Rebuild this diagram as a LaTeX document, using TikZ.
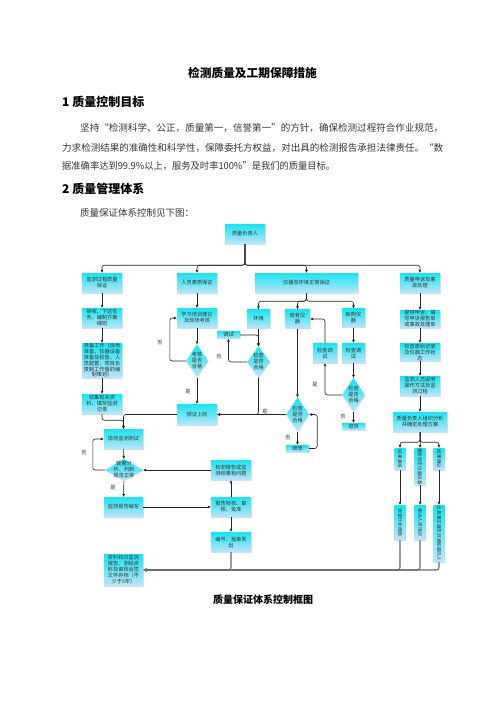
\documentclass[tikz,border=0pt]{standalone}
\usepackage{fontspec}
\usepackage{graphicx}
\setmainfont{Noto Sans CJK SC}
\usetikzlibrary{shapes.geometric,arrows.meta,shadows,calc}
\definecolor{boxtop}{RGB}{20,230,240}
\definecolor{boxbot}{RGB}{192,228,248}
\definecolor{txt}{RGB}{55,55,55}
\definecolor{busc}{RGB}{105,105,105}
\tikzset{
  bx/.style={draw=none, top color=boxtop, bottom color=boxbot, inner sep=0.3pt, align=center,
    font=\fontsize{5.2}{6}\selectfont, text=black!80,
    drop shadow={shadow xshift=0.6pt, shadow yshift=-0.6pt, opacity=0.25}},
  dm/.style={diamond, draw=none, top color=boxtop, bottom color=boxbot, inner sep=0pt,
    drop shadow={shadow xshift=0.6pt, shadow yshift=-0.6pt, opacity=0.25}},
  lbl/.style={font=\fontsize{5.2}{6}\selectfont, text=black!80, align=center, inner sep=0pt},
  vlbl/.style={font=\fontsize{4.6}{5}\selectfont, text=black!80, rotate=-90, inner sep=0pt},
  arr/.style={draw=black!85, line width=0.6pt, -{Triangle[length=3pt,width=2.6pt]}, rounded corners=2.5pt},
  bus/.style={draw=busc, line width=1.1pt, -{Triangle[length=3.4pt,width=3pt]}, rounded corners=2.5pt},
  para/.style={anchor=west, inner sep=0pt, font=\fontsize{9.5}{10}\selectfont, text=txt},
  head/.style={anchor=west, inner sep=0pt, font=\fontsize{12}{12}\selectfont\bfseries, text=black}
}
\begin{document}
\begin{tikzpicture}[x=1pt,y=-1pt]
\useasboundingbox[fill=white] (0,0) rectangle (496,702);

% ---------- text ----------
\node[inner sep=0pt, font=\fontsize{11.7}{12}\selectfont\bfseries] (title) at (252.5,73) {检测质量及工期保障措施};
\node[head] (h1) at (62,102) {1 质量控制目标};
\node[para] (p1) at (80,128) {\resizebox{363pt}{\height}{坚持“检测科学、公正，质量第一，信誉第一”的方针，确保检测过程符合作业规范，}};
\node[para] (p2) at (62,148) {\resizebox{381pt}{\height}{力求检测结果的准确性和科学性，保障委托方权益，对出具的检测报告承担法律责任。“数}};
\node[para] (p3) at (62,166) {\resizebox{273pt}{\height}{据准确率达到99.9\%以上，服务及时率100\%”是我们的质量目标。}};
\node[head] (h2) at (62,189) {2 质量管理体系};
\node[para] (p4) at (80,213) {质量保证体系控制见下图：};
\node[inner sep=0pt, font=\fontsize{10}{10}\selectfont\bfseries] (cap) at (263,600) {质量保证体系控制框图};

% ---------- boxes ----------
\node[bx, minimum width=40pt, minimum height=20pt] (top) at (245,234) {质量负责人};
\node[bx, minimum width=40pt, minimum height=20pt] (A1) at (102,283) {监测过程质量\\保证};
\node[bx, minimum width=40pt, minimum height=20pt] (B1) at (197,283) {人员素质保证};
\node[bx, minimum width=103pt, minimum height=20pt] (C1) at (306.5,283) {仪器及环境正常保证};
\node[bx, minimum width=40pt, minimum height=20pt] (D1) at (420,283) {质量申诉及事\\故处理};

\node[bx, minimum width=40pt, minimum height=20pt] (A2) at (102,318) {接收、下达任\\务，编制方案\\细则};
\node[bx, minimum width=40pt, minimum height=20pt] (B2) at (197,318) {学习培训理论\\及现场考核};
\node[bx, minimum width=23pt, minimum height=19pt] (C2) at (258.5,319) {环境};
\node[bx, minimum width=25pt, minimum height=19pt] (C3) at (297.5,319) {现有仪\\器};
\node[bx, minimum width=23pt, minimum height=19pt] (C4) at (353.5,318) {新购仪\\器};
\node[bx, minimum width=40pt, minimum height=18pt] (D2) at (420,319) {提供申诉、填\\写申诉报告单\\或事故处理单};

\node[bx, minimum width=23pt, minimum height=7pt] (T) at (228.5,335) {调试};
\node[dm, minimum width=22pt, minimum height=33pt, label={[lbl]center:{考核\\是否\\合格}}] (B3) at (197,361) {};
\node[dm, minimum width=23pt, minimum height=31pt, label={[lbl]center:{检查\\是否\\合格}}] (E) at (258.5,362) {};
\node[bx, minimum width=40pt, minimum height=21pt] (B4) at (197,414.5) {颁证上岗};
\node[dm, minimum width=23pt, minimum height=34pt, label={[lbl]center:{检查\\是否\\合格}}] (C5) at (297.5,414.5) {};
\node[bx, minimum width=23pt, minimum height=7pt] (W) at (297.5,448.5) {维修};
\node[bx, minimum width=24pt, minimum height=20pt] (C6) at (325,353) {检查调\\试};
\node[bx, minimum width=23pt, minimum height=20pt] (C7) at (353.5,353) {检查调\\试};
\node[dm, minimum width=23pt, minimum height=34pt, label={[lbl]center:{检查\\是否\\合格}}] (C8) at (353.5,395) {};
\node[bx, minimum width=23pt, minimum height=7pt] (R) at (353.5,426.5) {退货};

\node[bx, minimum width=40pt, minimum height=35pt, font=\fontsize{5.2}{5.8}\selectfont] (A3) at (102,360.5) {准备工作（现场\\准备，仪器设备\\准备及检查，人\\员配置，项目负\\责制工作量的编\\制策划）};
\node[bx, minimum width=40pt, minimum height=20pt] (A4) at (102,404) {收集有关资\\料、填写监测\\记录};
\node[bx, minimum width=39pt, minimum height=20pt] (A5) at (123.5,439) {现场监测测试};
\node[dm, minimum width=38pt, minimum height=22pt, label={[lbl]center:{数据分\\析、判断\\是否正常}}] (A6) at (124,470) {};
\node[bx, minimum width=39pt, minimum height=20pt] (A7) at (123.5,507) {监测报告编写};
\node[bx, minimum width=39pt, minimum height=32pt] (A8) at (123.5,570) {资料和对监测\\报告、测绘资\\料及审核会签\\文件存档（不\\少于5年）};

\node[bx, minimum width=40pt, minimum height=20pt] (M1) at (231,470) {检测报告或监\\测结果有问题};
\node[bx, minimum width=40pt, minimum height=20pt] (M2) at (231,507) {报告校核、审\\核、批准};
\node[bx, minimum width=40pt, minimum height=20pt] (M3) at (231,542) {编号、盖章发\\出};

\node[bx, minimum width=40pt, minimum height=18pt] (D3) at (420,352) {检查原始记录\\及仪器工作状\\态};
\node[bx, minimum width=40pt, minimum height=20pt] (D4) at (420,386) {监测人员说明\\操作方法及监\\测过程};
\node[bx, minimum width=54pt, minimum height=20pt] (D5) at (420,422) {质量负责人组织分析\\并确定处理方案};

\node[bx, minimum width=11pt, minimum height=22pt, label={[vlbl]center:结果复核}] (V1) at (400,459) {};
\node[bx, minimum width=11pt, minimum height=37pt, label={[vlbl]center:重新检定仪器设备}] (V2) at (420,466.5) {};
\node[bx, minimum width=11pt, minimum height=22pt, label={[vlbl]center:结果确认}] (V3) at (439,459) {};
\node[bx, minimum width=11pt, minimum height=35pt, label={[vlbl]center:调查分析原因}] (V4) at (400,522.5) {};
\node[bx, minimum width=11pt, minimum height=35pt, label={[vlbl]center:相关人员培训}] (V5) at (420,522.5) {};
\node[bx, minimum width=11pt, minimum height=57pt, label={[vlbl]center:出具更正报告并通知委托人}] (V6) at (439,533.5) {};

% ---------- yes / no labels ----------
\node[lbl] (n1) at (160,343) {否};
\node[lbl] (y1) at (188,392) {是};
\node[lbl] (n2) at (219,357) {否};
\node[lbl] (y2) at (265,412) {是};
\node[lbl] (n3) at (288,438) {否};
\node[lbl] (y3) at (315,385) {是};
\node[lbl] (n4) at (343,417) {否};
\node[lbl] (n5) at (84,453) {否};
\node[lbl] (y5) at (113,488) {是};

% ---------- connectors ----------
\draw[arr] (top.south) -- ++(0,21) -| (A1.north);
\draw[arr] (top.south) -- ++(0,21) -| (B1.north);
\draw[arr] (top.south) -- ++(0,21) -| (C1.north);
\draw[arr] (top.south) -- ++(0,21) -| (D1.north);

\draw[arr] (A1) -- (A2);
\draw[arr] (A2) -- (A3);
\draw[arr] (A3) -- (A4);
\draw[arr] (A4.south) -- ++(0,6) -| (A5.north);
\draw[arr] (B4.west) -| (A5.north);
\draw[arr] (A5) -- (A6);
\draw[arr] (A6.west) -- ++(-12,0) |- (A5.west);
\draw[arr] (A6) -- (A7);
\draw[arr] (A7) -- (M2);
\draw[arr] (M2) -- (M1);
\draw[arr] (M2) -- (M3);
\draw[arr] (M1) -- (A6.east);

\draw[arr] (B1) -- (B2);
\draw[arr] (B2) -- (B3.north);
\draw[arr] (B3.south) -- (B4);
\draw[arr] (B3.west) -- ++(-16,0) |- (B2.west);

\draw[arr] (C1.south) -- ++(0,8) -| (C2.north);
\draw[arr] (C1.south) -- ++(0,8) -| (C3.north);
\draw[arr] (C1.south) -- ++(0,8) -| (C4.north);
\draw[arr] (C2) -- (E.north);
\draw[arr] (T.east) -| (E.north);
\draw[arr] (E.west) -| (T.south);
\draw[arr] (E.south) |- (B4.east);
\draw[arr] (C5.west) -- (B4.east);
\draw[arr] (C3) -- (C5.north);
\draw[arr] (C5.south) -- (W);
\draw[arr] (W.east) -- ++(8,0) |- (C5.east);
\draw[arr] (C4) -- (C7);
\draw[arr] (C7) -- (C8.north);
\draw[arr] (C8.west) -| (C6.south);
\draw[arr] (C6.north) |- (C3.east);
\draw[arr] (C8.south) -- (R);

\draw[arr] (D1) -- (D2);
\draw[arr] (D2) -- (D3);
\draw[arr] (D3) -- (D4);
\draw[arr] (D4) -- (D5);
\draw[arr] (D5.south) -- ++(0,10) -| (V1.north);
\draw[arr] (D5.south) -- ++(0,10) -| (V2.north);
\draw[arr] (D5.south) -- ++(0,10) -| (V3.north);
\draw[arr] (V1) -- (V4);
\draw[arr] (V2) -- (V5);
\draw[arr] (V3) -- (V6);

\draw[bus] (V6.south) |- (A8.east);
\draw[bus] (V5.south) |- (A8.east);
\draw[bus] (V4.south) |- (A8.east);
\draw[bus] (M3.south) |- (A8.east);
\end{tikzpicture}
\end{document}
